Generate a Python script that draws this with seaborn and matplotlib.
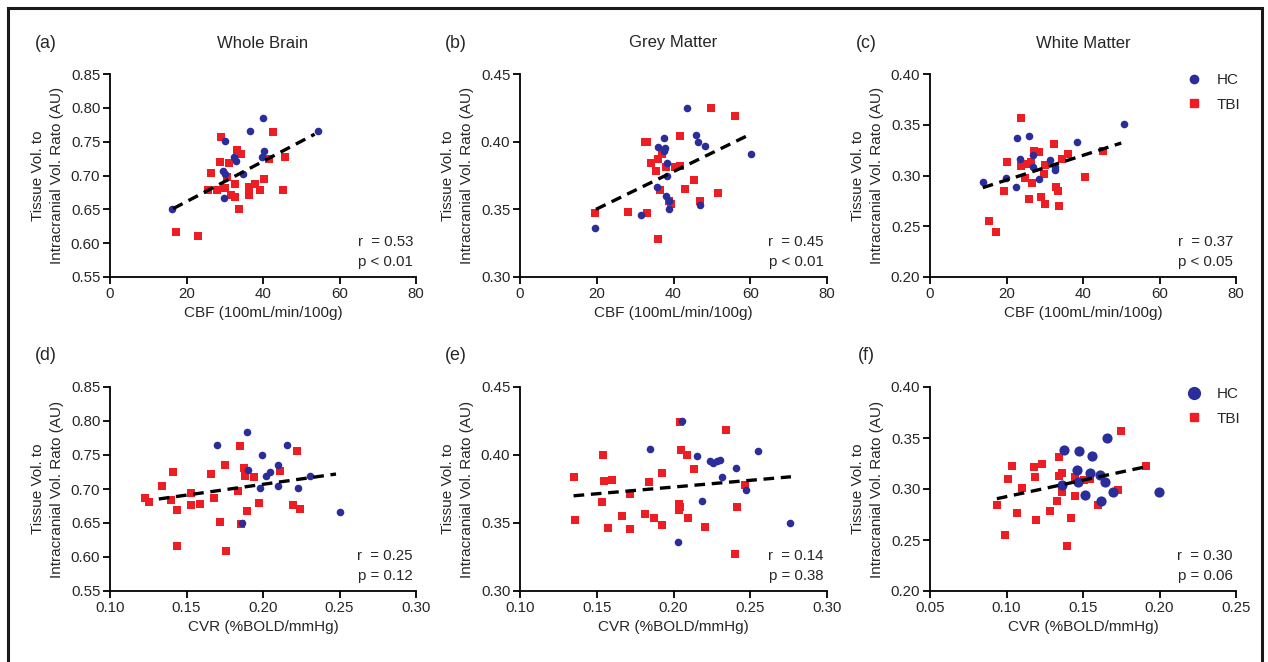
import numpy as np
import pandas as pd
import matplotlib
matplotlib.use("Agg")
import matplotlib.pyplot as plt
from matplotlib.lines import Line2D
from matplotlib.patches import Rectangle
import seaborn as sns

# ---------------- data ----------------
# (a) Whole brain vs CBF
a_hc_x = [16.3, 54.3, 39.9, 36.5, 30.0, 40.2, 39.7, 32.5, 32.9, 29.5, 30.0, 34.8, 29.8]
a_hc_y = [0.651, 0.766, 0.785, 0.766, 0.751, 0.736, 0.728, 0.727, 0.721, 0.706, 0.702, 0.702, 0.667]
a_tbi_x = [29.1, 42.7, 33.3, 34.2, 28.7, 31.0, 41.6, 45.8, 26.4, 30.5, 40.3, 32.7, 36.3, 38.0,
           30.1, 25.7, 28.0, 39.2, 45.3, 31.6, 32.7, 36.3, 33.8, 17.3, 23.0]
a_tbi_y = [0.757, 0.765, 0.737, 0.732, 0.720, 0.718, 0.725, 0.728, 0.704, 0.698, 0.695, 0.687, 0.683, 0.687,
           0.681, 0.678, 0.679, 0.679, 0.678, 0.671, 0.668, 0.671, 0.650, 0.616, 0.610]
a_fit_x = [16.5, 53.5]
a_fit_y = [0.651, 0.761]

# (b) Grey matter vs CBF
b_hc_x = [19.6, 43.5, 45.9, 46.5, 48.3, 60.3, 37.6, 36.0, 37.8, 37.4, 38.3, 38.3, 35.6, 38.1, 38.7, 38.8, 31.6, 47.0]
b_hc_y = [0.3365, 0.425, 0.4047, 0.3995, 0.3968, 0.391, 0.403, 0.396, 0.3956, 0.393, 0.384, 0.375, 0.3665,
          0.360, 0.356, 0.350, 0.346, 0.353]
b_tbi_x = [19.6, 49.7, 56.0, 41.8, 32.6, 33.2, 36.9, 36.0, 34.2, 35.4, 38.1, 40.3, 41.6, 45.3, 43.0, 36.6,
           51.7, 38.8, 39.4, 46.8, 28.2, 33.1, 36.0]
b_tbi_y = [0.347, 0.425, 0.419, 0.404, 0.400, 0.400, 0.391, 0.387, 0.384, 0.378, 0.381, 0.381, 0.382, 0.372,
           0.365, 0.3645, 0.362, 0.356, 0.354, 0.356, 0.348, 0.347, 0.328]
b_fit_x = [19.8, 60.4]
b_fit_y = [0.350, 0.406]

# (c) White matter vs CBF
c_hc_x = [13.8, 50.7, 38.4, 22.7, 26.0, 23.6, 26.9, 31.4, 26.9, 32.8, 32.8, 19.9, 28.5, 22.4]
c_hc_y = [0.294, 0.351, 0.333, 0.337, 0.339, 0.316, 0.320, 0.315, 0.308, 0.308, 0.305, 0.298, 0.297, 0.289]
c_tbi_x = [23.8, 20.1, 23.8, 25.1, 26.5, 27.2, 28.6, 32.4, 36.1, 34.6, 30.0, 29.8, 24.9, 26.6, 40.4, 45.2,
           19.4, 33.0, 33.5, 25.9, 29.1, 30.1, 33.6, 15.5, 17.3]
c_tbi_y = [0.357, 0.313, 0.309, 0.3115, 0.313, 0.3246, 0.323, 0.331, 0.321, 0.316, 0.310, 0.301, 0.298, 0.293,
           0.299, 0.324, 0.285, 0.289, 0.285, 0.277, 0.279, 0.272, 0.270, 0.2554, 0.2446]
c_fit_x = [13.8, 50.0]
c_fit_y = [0.288, 0.332]

# (d) Whole brain vs CVR
d_hc_x = [0.1897, 0.1697, 0.2158, 0.1996, 0.2097, 0.1901, 0.2048, 0.2022, 0.2308, 0.2095, 0.198, 0.2229, 0.250, 0.1864]
d_hc_y = [0.784, 0.765, 0.765, 0.750, 0.735, 0.7275, 0.7255, 0.7186, 0.7186, 0.7044, 0.701, 0.701, 0.6667, 0.650]
d_tbi_x = [0.1851, 0.222, 0.1754, 0.1411, 0.1659, 0.1879, 0.2112, 0.1884, 0.1941, 0.1341, 0.1532, 0.1837, 0.1226,
           0.1253, 0.1396, 0.1681, 0.1530, 0.1587, 0.1974, 0.2193, 0.2242, 0.1435, 0.1897, 0.1719, 0.1857,
           0.1437, 0.1758]
d_tbi_y = [0.7637, 0.756, 0.736, 0.7245, 0.7225, 0.731, 0.726, 0.7186, 0.717, 0.704, 0.6936, 0.697, 0.6868,
           0.6814, 0.6833, 0.6868, 0.677, 0.678, 0.679, 0.677, 0.6706, 0.6696, 0.6676, 0.6515, 0.649,
           0.6157, 0.6093]
d_fit_x = [0.1319, 0.2477]
d_fit_y = [0.6853, 0.722]

# (e) Grey matter vs CVR
e_hc_x = [0.2054, 0.1848, 0.2553, 0.2153, 0.2237, 0.2255, 0.2281, 0.2303, 0.2405, 0.2314, 0.2471, 0.2185, 0.276, 0.2028]
e_hc_y = [0.4248, 0.4047, 0.4027, 0.399, 0.3953, 0.3939, 0.3958, 0.3966, 0.3907, 0.3838, 0.3743, 0.3662, 0.350, 0.3363]
e_tbi_x = [0.2044, 0.2342, 0.2052, 0.2087, 0.154, 0.2131, 0.1924, 0.1349, 0.1597, 0.1545, 0.1839, 0.2466, 0.1715,
           0.1536, 0.2037, 0.2041, 0.2037, 0.2412, 0.1667, 0.1817, 0.1874, 0.2096, 0.136, 0.1926, 0.2205,
           0.1573, 0.1715, 0.2403]
e_tbi_y = [0.4243, 0.4184, 0.4034, 0.4002, 0.3998, 0.390, 0.3868, 0.3838, 0.3819, 0.3809, 0.3801, 0.3782, 0.3716,
           0.3652, 0.3642, 0.3618, 0.3598, 0.3618, 0.3554, 0.3564, 0.3534, 0.3534, 0.3524, 0.3483, 0.3473,
           0.3466, 0.3458, 0.3275]
e_fit_x = [0.1349, 0.2765]
e_fit_y = [0.370, 0.384]

# (f) White matter vs CVR
f_hc_x = [0.1659, 0.1373, 0.1474, 0.1557, 0.1463, 0.1548, 0.1609, 0.1644, 0.1467, 0.1362, 0.1694, 0.1515, 0.1620, 0.1996]
f_hc_y = [0.350, 0.3382, 0.3369, 0.332, 0.319, 0.3157, 0.314, 0.3069, 0.3069, 0.3042, 0.2967, 0.2938, 0.2879, 0.2971]
f_tbi_x = [0.1747, 0.1343, 0.1231, 0.1035, 0.1182, 0.1365, 0.1345, 0.1445, 0.1186, 0.1009, 0.1509, 0.1544, 0.1915,
           0.110, 0.1731, 0.1363, 0.1448, 0.0937, 0.1332, 0.1598, 0.1068, 0.1284, 0.1424, 0.119, 0.0991, 0.1393]
f_tbi_y = [0.3569, 0.331, 0.3245, 0.3229, 0.3212, 0.316, 0.3124, 0.3114, 0.3121, 0.3101, 0.3085, 0.3098, 0.3229,
           0.301, 0.2987, 0.2971, 0.2928, 0.2843, 0.2882, 0.2846, 0.2765, 0.2788, 0.2716, 0.270, 0.2552, 0.2438]
f_fit_x = [0.0937, 0.1904]
f_fit_y = [0.2905, 0.3216]

panel_letters = ["(a)", "(b)", "(c)", "(d)", "(e)", "(f)"]
column_titles = ["Whole Brain", "Grey Matter", "White Matter"]
x_labels = ["CBF (100mL/min/100g)", "CVR (%BOLD/mmHg)"]
y_label = "Tissue Vol. to\nIntracranial Vol. Rato (AU)"
stats_r = ["r  = 0.53", "r  = 0.45", "r  = 0.37", "r  = 0.25", "r  = 0.14", "r  = 0.30"]
stats_p = ["p < 0.01", "p < 0.01", "p < 0.05", "p = 0.12", "p = 0.38", "p = 0.06"]
x_ticks_cbf = [0, 20, 40, 60, 80]
x_ticks_cvr_gm = [0.10, 0.15, 0.20, 0.25, 0.30]
x_ticks_cvr_wm = [0.05, 0.10, 0.15, 0.20, 0.25]
y_ticks_wb = [0.55, 0.60, 0.65, 0.70, 0.75, 0.80, 0.85]
y_ticks_gm = [0.30, 0.35, 0.40, 0.45]
y_ticks_wm = [0.20, 0.25, 0.30, 0.35, 0.40]
group_labels = ["HC", "TBI"]

# ---------------- style ----------------
sns.set_theme(style="ticks")
plt.rcParams["font.family"] = ["Liberation Sans", "DejaVu Sans"]
TXT = "#262626"
plt.rcParams.update({
    "text.color": TXT, "axes.labelcolor": TXT, "xtick.color": "black", "ytick.color": "black",
    "xtick.labelcolor": TXT, "ytick.labelcolor": TXT,
    "axes.linewidth": 1.3, "xtick.major.width": 1.3, "ytick.major.width": 1.3,
    "xtick.major.size": 5, "ytick.major.size": 5,
    "xtick.labelsize": 10.8, "ytick.labelsize": 10.8, "axes.labelsize": 11,
})

BLUE = "#2B2E9A"
RED = "#EE1D23"
W, H = 1268, 662

fig = plt.figure(figsize=(W / 100, H / 100), dpi=100)

def fx(px):
    return px / W

def fy(py):
    return 1 - py / H

# frame
fig.patches.append(Rectangle((fx(8), fy(700)), fx(1262) - fx(8), fy(8) - fy(700), transform=fig.transFigure,
                             fill=False, edgecolor="#1a1a1a", linewidth=2.2, zorder=0))

col_left = [110, 520, 930]
col_right = [416, 827, 1236]
row_top = [74, 387]
row_bottom = [277, 591]

panels = [
    (a_hc_x, a_hc_y, a_tbi_x, a_tbi_y, a_fit_x, a_fit_y, x_ticks_cbf, y_ticks_wb, "{:.0f}"),
    (b_hc_x, b_hc_y, b_tbi_x, b_tbi_y, b_fit_x, b_fit_y, x_ticks_cbf, y_ticks_gm, "{:.0f}"),
    (c_hc_x, c_hc_y, c_tbi_x, c_tbi_y, c_fit_x, c_fit_y, x_ticks_cbf, y_ticks_wm, "{:.0f}"),
    (d_hc_x, d_hc_y, d_tbi_x, d_tbi_y, d_fit_x, d_fit_y, x_ticks_cvr_gm, y_ticks_wb, "{:.2f}"),
    (e_hc_x, e_hc_y, e_tbi_x, e_tbi_y, e_fit_x, e_fit_y, x_ticks_cvr_gm, y_ticks_gm, "{:.2f}"),
    (f_hc_x, f_hc_y, f_tbi_x, f_tbi_y, f_fit_x, f_fit_y, x_ticks_cvr_wm, y_ticks_wm, "{:.2f}"),
]

for i, (hx, hy, tx, ty, fitx, fity, xt, yt, xfmt) in enumerate(panels):
    r, c = divmod(i, 3)
    L, R = col_left[c], col_right[c]
    T, B = row_top[r], row_bottom[r]
    ax = fig.add_axes([fx(L), fy(B), fx(R) - fx(L), fy(T) - fy(B)])
    ax.set_facecolor("none")
    hc_size = 54 if i == 5 else 30
    df_t = pd.DataFrame({"x": tx, "y": ty})
    df_h = pd.DataFrame({"x": hx, "y": hy})
    sns.scatterplot(data=df_t, x="x", y="y", ax=ax, color=RED, marker="s", s=30, linewidth=0, zorder=3)
    sns.scatterplot(data=df_h, x="x", y="y", ax=ax, color=BLUE, marker="o", s=hc_size, linewidth=0, zorder=4)
    df_f = pd.DataFrame({"x": fitx, "y": fity})
    sns.lineplot(data=df_f, x="x", y="y", ax=ax, color="black", linewidth=2.4, zorder=5,
                 linestyle=(0, (3.2, 2.0)))
    ax.set_xlim(xt[0], xt[-1])
    ax.set_ylim(yt[0], yt[-1])
    ax.set_xticks(xt)
    ax.set_xticklabels([xfmt.format(v) for v in xt])
    ax.set_yticks(yt)
    ax.set_yticklabels(["{:.2f}".format(v) for v in yt])
    ax.tick_params(axis="both", pad=2)
    sns.despine(ax=ax)
    for sp in ("left", "bottom"):
        ax.spines[sp].set_color("black")
        ax.spines[sp].set_capstyle("projecting")
    ax.set_xlabel(x_labels[r], labelpad=4)
    ax.set_ylabel(y_label, labelpad=5, linespacing=1.4)
    ax.text(0.99, 0.172, stats_r[i], transform=ax.transAxes, ha="right", va="center", fontsize=10.8)
    ax.text(0.99, 0.074, stats_p[i], transform=ax.transAxes, ha="right", va="center", fontsize=10.8)
    # panel letters and column titles
    fig.text(fx(L - 64), fy(T - 31), panel_letters[i], ha="center", va="center", fontsize=12.8)
    if r == 0:
        fig.text(fx((L + R) / 2), fy(43), column_titles[c], ha="center", va="center", fontsize=12)
    if c == 2:
        handles = [Line2D([], [], linestyle="none", marker="o", color=BLUE,
                          markersize=(6.0 if r == 0 else 8.5)),
                   Line2D([], [], linestyle="none", marker="s", color=RED, markersize=6.0)]
        ax.legend(handles, group_labels, loc="upper left", frameon=False,
                  bbox_to_anchor=(fx(1186), fy(T - 1 + (0 if r == 0 else 1))), bbox_transform=fig.transFigure,
                  handlelength=1.0, handletextpad=1.0, labelspacing=0.7, fontsize=11,
                  borderaxespad=0, borderpad=0)

fig.savefig("out.png", dpi=100)
